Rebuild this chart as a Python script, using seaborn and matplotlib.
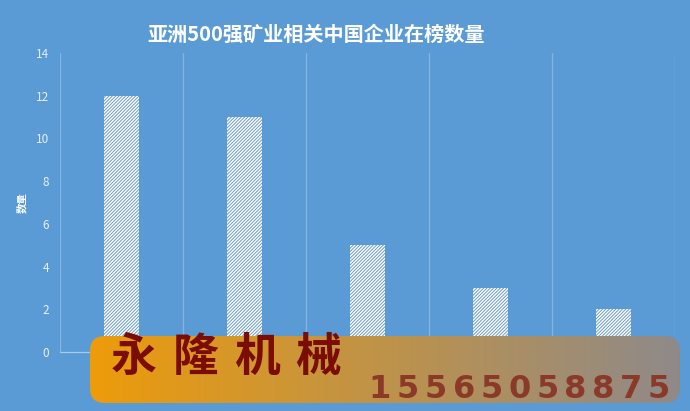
import matplotlib
matplotlib.use('Agg')
import matplotlib.pyplot as plt
import numpy as np
import pandas as pd
import seaborn as sns
from matplotlib.patches import FancyBboxPatch

# data (company names are covered by the watermark in the source image)
companies = ['企业1', '企业2', '企业3', '企业4', '企业5']
counts = [12, 11, 5, 3, 2]
y_ticks = [0, 2, 4, 6, 8, 10, 12, 14]

title = '亚洲500强矿业相关中国企业在榜数量'
y_label = '数量'
mark_name = '永隆机械'
mark_phone = '15565058875'

bg = '#5B9BD5'

sns.set_theme(style='white')
plt.rcParams['font.family'] = ['Noto Sans CJK SC', 'DejaVu Sans']
plt.rcParams['hatch.linewidth'] = 1.0

df = pd.DataFrame({'company': companies, 'count': counts})

fig = plt.figure(figsize=(6.9, 4.11), dpi=100, facecolor=bg)
ax = fig.add_axes([60 / 690, 59 / 411, 615 / 690, 299 / 411])
ax.set_facecolor(bg)

sns.barplot(data=df, x='company', y='count', ax=ax, width=0.28,
            color=bg, edgecolor='white', linewidth=0, hatch='//////////')

ax.set_ylim(0, 14)
ax.set_xlim(-0.5, len(companies) - 0.5)
ax.set_yticks(y_ticks)
ax.tick_params(axis='y', colors='#E6EEF8', labelsize=8.5, length=0, pad=8)
ax.tick_params(axis='x', labelbottom=False, length=0)
ax.set_xlabel('')
ax.set_ylabel(y_label, color='white', fontsize=7.5, fontweight='bold', labelpad=6)

# category separators
for x in np.arange(-0.5, len(companies) + 0.5, 1):
    ax.axvline(x, color='#86B3E0', linewidth=0.9, zorder=0)
for s in ['top', 'right', 'left']:
    ax.spines[s].set_visible(False)
ax.spines['bottom'].set_color('#A9C9EA')
ax.spines['bottom'].set_linewidth(0.9)

fig.text(316 / 690, 1 - 34 / 411, title, color='white', fontsize=14.5,
         fontweight='bold', ha='center', va='center')

# watermark overlay
wax = fig.add_axes([0, 0, 1, 1], facecolor='none')
wax.set_xlim(0, 690)
wax.set_ylim(411, 0)
wax.axis('off')
grad = np.linspace(0, 1, 256)
c0 = np.array([0.93, 0.61, 0.04])
c1 = np.array([0.56, 0.54, 0.54])
img = (c0[None, :] * (1 - grad[:, None]) + c1[None, :] * grad[:, None])[None, :, :]
im = wax.imshow(img, extent=[90, 680, 403, 336], aspect='auto', zorder=1)
box = FancyBboxPatch((90, 336), 590, 67, boxstyle='round,pad=0,rounding_size=15',
                     facecolor='none', edgecolor='none', transform=wax.transData)
wax.add_patch(box)
im.set_clip_path(box)


def spaced_text(s, x0, x1, yc, **kw):
    # spread the characters evenly between x0 and x1 (character centres)
    xs = np.linspace(x0, x1, len(s))
    for ch, xx in zip(s, xs):
        wax.text(xx, yc, ch, ha='center', va='center', zorder=2, **kw)


spaced_text(mark_name, 134, 318, 358, color='#7A0C02', fontsize=33,
            fontweight='heavy')
spaced_text(mark_phone, 380, 659, 389, color='#8B3A2A', fontsize=23,
            fontweight='bold', family=['DejaVu Sans'])

fig.savefig('out.png', dpi=100, facecolor=bg)
